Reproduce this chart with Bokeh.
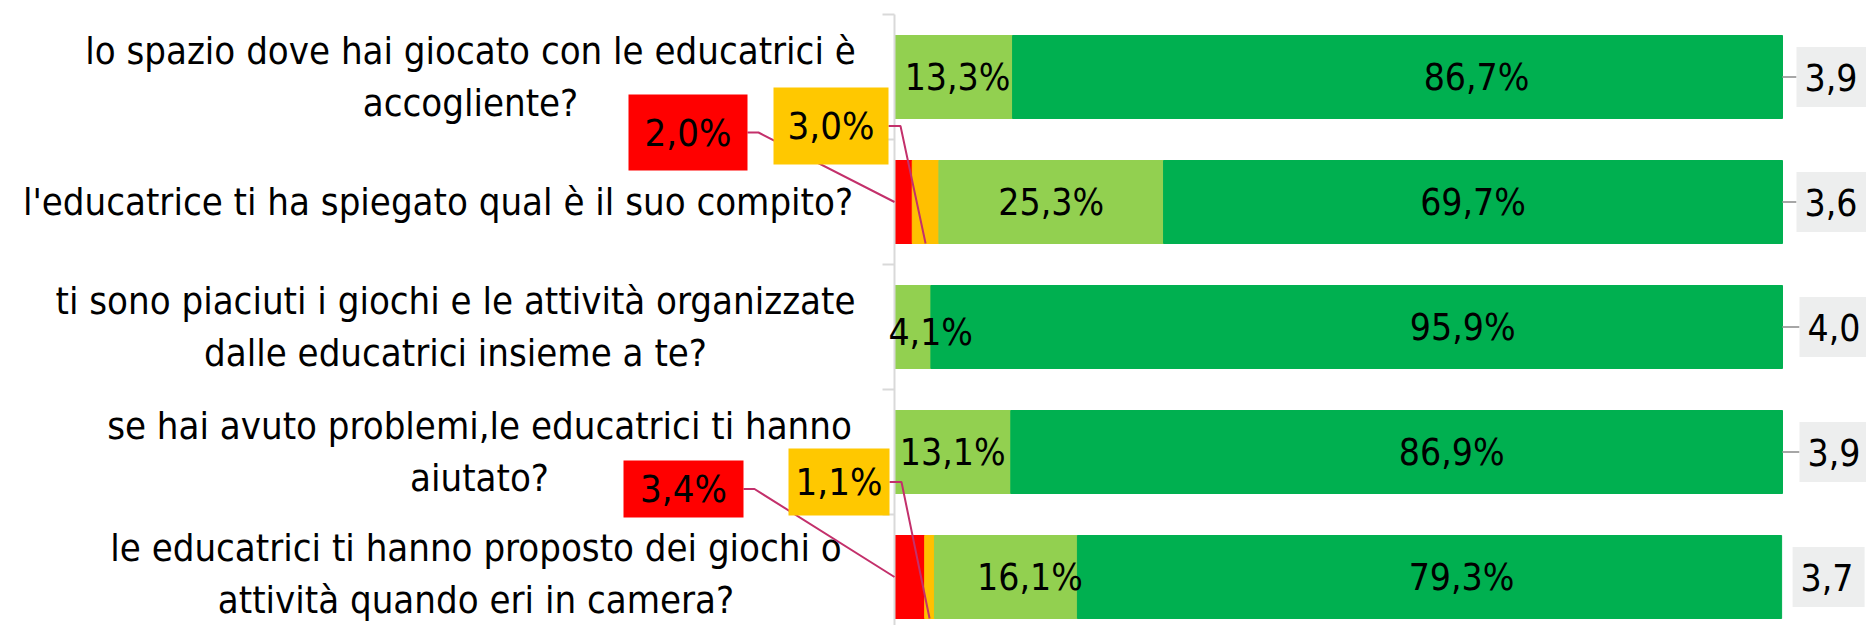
from bokeh.plotting import figure
from bokeh.models import Range1d, ColumnDataSource
from bokeh.core.properties import value
from bokeh.embed import file_html
from bokeh.resources import INLINE

# ---------------- data ----------------
questions = [
    "lo spazio dove hai giocato con le educatrici è\naccogliente?",
    "l'educatrice ti ha spiegato qual è il suo compito?",
    "ti sono piaciuti i giochi e le attività organizzate\ndalle educatrici insieme a te?",
    "se hai avuto problemi,le educatrici ti hanno\naiutato?",
    "le educatrici ti hanno proposto dei giochi o\nattività quando eri in camera?",
]
per_niente = [0.0, 2.0, 0.0, 0.0, 3.4]
poco = [0.0, 3.0, 0.0, 0.0, 1.1]
abbastanza = [13.3, 25.3, 4.1, 13.1, 16.1]
molto = [86.7, 69.7, 95.9, 86.9, 79.3]
media = [3.9, 3.6, 4.0, 3.9, 3.7]

series = ["per_niente", "poco", "abbastanza", "molto"]
colors = ["#FF0000", "#FFC000", "#92D050", "#00B050"]

# ---------------- layout / style ----------------
FONT = "DejaVu Sans Condensed"
W, H = 1866, 625
AXIS_PX = 894          # canvas x of the category axis
PX_PER_PCT = 8.88      # pixels per percentage point
ROW0_PX = 76.5         # canvas y of the first bar centre
ROW_PX = 125.0         # pixels per category band
BAR_H = 0.664

# label placement tweaks (screen px)
q_label_dx = [-424, -456.5, -439, -415, -418.5]
q_label_dy = [0, 0, 0, 0, -3]
light_dx = [4, 0, 18, 0, 24]
light_dy = [0, 0, 5, 0, 0]
dark_dx = [79, 0, 106, 55, 32]
score_gap = [14, 14, 17, 17, 11]
score_leader = [True, True, True, True, False]
callouts = [
    dict(row=1, s=0, cx=-206.5, cy=-69.5, w=119, h=76, elbow=11, color="#FF0000"),
    dict(row=1, s=1, cx=-63.5, cy=-76, w=115, h=77, elbow=12, color="#FFC800"),
    dict(row=4, s=0, cx=-211, cy=-88, w=120, h=57, elbow=11, color="#FF0000"),
    dict(row=4, s=1, cx=-55.5, cy=-95, w=101, h=67, elbow=12, color="#FFC800"),
]

def pxx(px):
    return px / PX_PER_PCT

def pxy(px):
    return px / ROW_PX

n = len(questions)
rows = list(range(n))
x_start = -AXIS_PX / PX_PER_PCT
x_end = (W - AXIS_PX) / PX_PER_PCT
y_top = -ROW0_PX / ROW_PX
y_bottom = (H - ROW0_PX) / ROW_PX

p = figure(width=W, height=H, output_backend="svg", toolbar_location=None,
           x_range=Range1d(x_start, x_end), y_range=Range1d(y_bottom, y_top),
           x_axis_type=None, y_axis_type=None, min_border=0)
p.outline_line_color = None
p.background_fill_color = "white"
p.border_fill_color = "white"

src = ColumnDataSource(dict(y=rows, per_niente=per_niente, poco=poco,
                            abbastanza=abbastanza, molto=molto))
p.hbar_stack(series, y="y", height=BAR_H, color=colors, source=src)

# cumulative positions
vals = [per_niente, poco, abbastanza, molto]
lefts = []
acc = [0.0] * n
for v in vals:
    lefts.append(acc[:])
    acc = [a + b for a, b in zip(acc, v)]

def fmt(v, pct=True):
    s = f"{v:.1f}".replace(".", ",")
    return s + "%" if pct else s

# axis line and category ticks
p.segment(x0=[0], y0=[-0.5], x1=[0], y1=[n - 0.5], line_color="#D9D9D9", line_width=2)
tick_y = [i - 0.5 for i in range(n + 1)]
p.segment(x0=[0] * len(tick_y), y0=tick_y, x1=[-pxx(12)] * len(tick_y), y1=tick_y,
          line_color="#D9D9D9", line_width=2)

# question labels
p.text(x=[0] * n, y=rows, text=questions, x_offset=q_label_dx, y_offset=q_label_dy,
       text_align="center", text_baseline="middle", text_font=value(FONT),
       text_font_size="38px", text_line_height=1.175, text_color="black")

# in-bar labels
lg_x = [l + v / 2 for l, v in zip(lefts[2], abbastanza)]
p.text(x=lg_x, y=rows, text=[fmt(v) for v in abbastanza], x_offset=light_dx,
       y_offset=light_dy, text_align="center", text_baseline="middle",
       text_font=value(FONT), text_font_size="37px", text_color="black")
dg_x = [l + v / 2 for l, v in zip(lefts[3], molto)]
p.text(x=dg_x, y=rows, text=[fmt(v) for v in molto], x_offset=dark_dx,
       text_align="center", text_baseline="middle",
       text_font=value(FONT), text_font_size="37px", text_color="black")

# callouts for small segments
for c in callouts:
    r, s = c["row"], c["s"]
    bx = pxx(c["cx"])
    by = r + pxy(c["cy"])
    right = pxx(c["cx"] + c["w"] / 2)
    elbow = pxx(c["cx"] + c["w"] / 2 + c["elbow"])
    if s == 0:
        ex, ey = lefts[s][r], r
    else:
        ex, ey = lefts[s][r] + vals[s][r] / 2, r + BAR_H / 2
    p.line(x=[right, elbow, ex], y=[by, by, ey], line_color="#C3306B", line_width=2)
    p.rect(x=[bx], y=[by], width=c["w"], height=c["h"], width_units="screen",
           height_units="screen", fill_color=c["color"], line_color=None)
    p.text(x=[bx], y=[by], text=[fmt(vals[s][r])], text_align="center",
           text_baseline="middle", text_font=value(FONT), text_font_size="38px",
           text_color="black")

# average score boxes
box_w, box_h = 72, 60
for i in rows:
    left_d = acc[i] + pxx(score_gap[i])
    if score_leader[i]:
        p.segment(x0=[acc[i]], y0=[i], x1=[left_d], y1=[i], line_color="#A6A6A6", line_width=2)
    p.rect(x=[left_d + pxx(box_w / 2)], y=[i], width=box_w, height=box_h,
           width_units="screen", height_units="screen", fill_color="#EDEEEE", line_color=None)
    p.text(x=[left_d], y=[i], text=[fmt(media[i], pct=False)], x_offset=8,
           text_align="left", text_baseline="middle", text_font=value(FONT),
           text_font_size="37px", text_color="black")

open("out.html", "w").write(file_html(p, INLINE))
